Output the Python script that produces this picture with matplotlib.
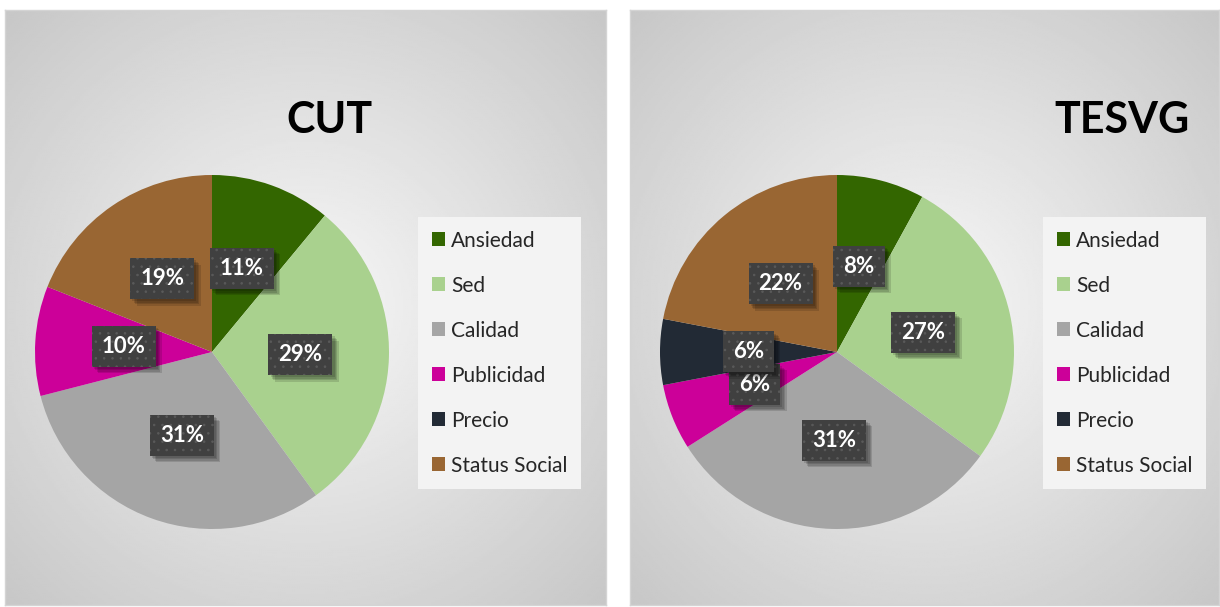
import numpy as np
import matplotlib
matplotlib.use('Agg')
import matplotlib.pyplot as plt
from matplotlib.patches import Patch
import matplotlib.patheffects as pe

categories = ['Ansiedad', 'Sed', 'Calidad', 'Publicidad', 'Precio', 'Status Social']
cut_values = [11, 29, 31, 10, 0, 19]
tesvg_values = [8, 27, 31, 6, 6, 22]
colors = ['#336600', '#a9d18e', '#a5a5a5', '#cc0099', '#222a35', '#996633']

W, H = 1220, 607
FONT = 'Lato'
plt.rcParams['hatch.linewidth'] = 0.6

fig = plt.figure(figsize=(W / 100, H / 100), dpi=100)


class SoftShadow(pe.AbstractPathEffect):
    # plain dark shadow under the label boxes, without the hatch
    def __init__(self, offset=(3, -3), alpha=0.12):
        super().__init__(offset)
        self.alpha = alpha

    def draw_path(self, renderer, gc, tpath, affine, rgbFace):
        gc0 = renderer.new_gc()
        gc0.copy_properties(gc)
        gc0.set_hatch(None)
        gc0.set_linewidth(0)
        gc0.set_alpha(self.alpha)
        renderer.draw_path(gc0, tpath, affine + self._offset_transform(renderer), (0, 0, 0))
        gc0.restore()


def px_axes(x0, y0, x1, y1):
    # pixel box measured from the top-left corner
    return fig.add_axes([x0 / W, 1 - y1 / H, (x1 - x0) / W, (y1 - y0) / H])


def draw_panel(box, center, radius, title, title_xy, legend_xy, values):
    # radial grey gradient background
    bg = px_axes(*box)
    yy, xx = np.mgrid[0:1:300j, 0:1:300j]
    d = np.hypot(xx - 0.5, yy - 0.5) / np.hypot(0.5, 0.5)
    g = 0.97 - (0.97 - 0.78) * d
    bg.imshow(g, cmap='gray', vmin=0, vmax=1, extent=[0, 1, 0, 1], aspect='auto')
    bg.set_xticks([])
    bg.set_yticks([])
    for s in bg.spines.values():
        s.set_color('#d4d4d4')
        s.set_linewidth(1)

    cx, cy = center
    ax = px_axes(cx - radius, cy - radius, cx + radius, cy + radius)
    wedges, texts, autotexts = ax.pie(
        values, colors=colors, startangle=90, counterclock=False,
        radius=1, pctdistance=0.5,
        autopct=lambda p: f'{p:.0f}%' if p > 0.5 else '',
        wedgeprops=dict(linewidth=0))
    ax.set_xlim(-1, 1)
    ax.set_ylim(-1, 1)
    ax.axis('off')

    shadows = [SoftShadow((o, -o), 0.13) for o in (1.5, 2.5, 3.5, 4.5)]
    for t in autotexts:
        if not t.get_text():
            continue
        t.set_color('white')
        t.set_fontsize(16)
        t.set_fontweight('bold')
        t.set_family(FONT)
        t.set_bbox(dict(boxstyle='square,pad=0.45', fc='#404040', ec='#5a5a5a',
                        lw=0, hatch='..'))
        t.get_bbox_patch().set_path_effects(shadows + [pe.Normal()])

    fig.text(title_xy[0] / W, 1 - title_xy[1] / H, title, ha='center', va='center',
             fontsize=31, fontweight='bold', family=FONT, color='black')

    handles = [Patch(facecolor=c, edgecolor='none') for c in colors]
    leg = fig.legend(handles, categories, loc='upper left',
                     bbox_to_anchor=(legend_xy[0] / W, 1 - legend_xy[1] / H),
                     frameon=True, facecolor='#f3f3f3', edgecolor='none',
                     fancybox=False, framealpha=1, borderaxespad=0,
                     prop=dict(family=FONT, size=15),
                     handlelength=0.65, handleheight=0.65, handletextpad=0.3,
                     labelspacing=1.2, borderpad=0.65)
    for txt in leg.get_texts():
        txt.set_color('#262626')


draw_panel((5, 10, 606, 605), (212, 352), 177, 'CUT', (329, 120), (418, 217), cut_values)
draw_panel((630, 10, 1219, 605), (837, 352), 177, 'TESVG', (1122, 120), (1043, 217), tesvg_values)

fig.savefig('out.png', dpi=100, facecolor='white')
